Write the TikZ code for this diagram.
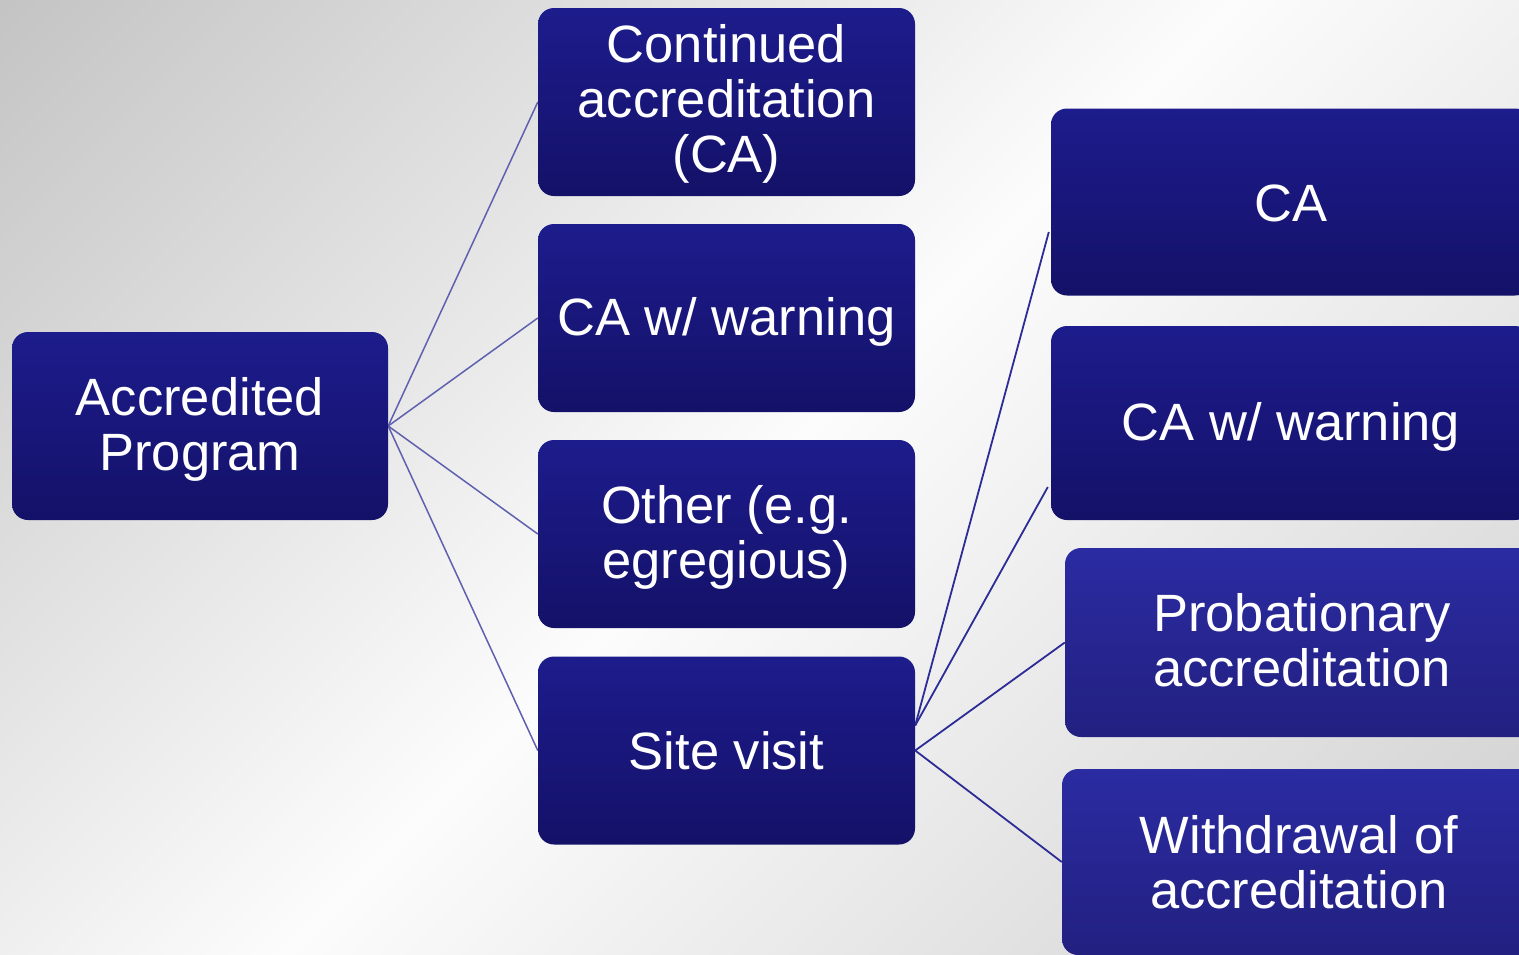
\documentclass[tikz,border=0pt]{standalone}
\usepackage{fontspec}
\setmainfont{Liberation Sans}
\usetikzlibrary{calc}

% page background: grey corners, light band along the anti-diagonal
\definecolor{bgTL}{RGB}{196,196,196}
\definecolor{bgMid}{RGB}{252,252,252}
\definecolor{bgBR}{RGB}{207,207,207}
\pgfdeclareverticalshading{bgdiag}{100bp}{%
  color(0bp)=(bgBR); color(14.64bp)=(bgBR); color(50bp)=(bgMid);
  color(85.36bp)=(bgTL); color(100bp)=(bgTL)}

\definecolor{navyTop}{RGB}{29,28,140}
\definecolor{navyBot}{RGB}{20,17,104}
\definecolor{royalTop}{RGB}{43,43,162}
\definecolor{royalBot}{RGB}{34,32,128}
\definecolor{fanLeft}{RGB}{96,96,176}
\definecolor{fanRight}{RGB}{44,44,150}

\pgfdeclarelayer{bglayer}
\pgfdeclarelayer{linklayer}
\pgfsetlayers{bglayer,linklayer,main}

% strut giving a one-line label a fixed height/depth so it sits centred
\newcommand\bxstrut{\rule[-7pt]{0pt}{52pt}}

\tikzset{
  boxtext/.style={inner sep=0pt, align=center, text=white,
    font=\fontsize{52.5}{55}\selectfont},
  box/.style={boxtext, rounded corners=16pt,
    execute at begin node=\bxstrut, execute at end node=\bxstrut,
    top color=navyTop, bottom color=navyBot},
  leftbox/.style={box, minimum width=377pt, minimum height=188pt},
  rightbox/.style={box, minimum width=480pt, minimum height=187pt},
  royal/.style={top color=royalTop, bottom color=royalBot},
  linkL/.style={draw=fanLeft, line width=1.5pt},
  linkR/.style={draw=fanRight, line width=1.8pt},
}

\begin{document}
\begin{tikzpicture}[x=1pt, y=-1pt]
\useasboundingbox (0,0) rectangle (1519,954);

\begin{pgfonlayer}{bglayer}
  \shade[shading=bgdiag, shading angle=45] (0,0) rectangle (1519,954);
\end{pgfonlayer}

% root
\node[leftbox, minimum width=376pt] (acc) at (200,426) {};
\node[boxtext] (accT) at ([yshift=-3pt]acc.center) {Accredited\\Program};

% first level
\node[leftbox] (cont)  at (726.5,102) {};
\node[boxtext] (contT) at ([yshift=-2pt]cont.center) {Continued\\accreditation\\(CA)};
\node[leftbox] (warn)  at (726.5,318) {CA w/ warning};
\node[leftbox] (other) at (726.5,534) {};
\node[boxtext] (otherT) at ([yshift=-3pt]other.center) {Other (e.g.\\egregious)};
\node[leftbox] (site)  at (726.5,750.5) {Site visit};

% outcomes of the site visit
\node[rightbox] (ca2)   at (1291,202) {CA};
\node[rightbox, minimum height=194pt] (warn2) at (1291,423) {CA w/ warning};
\node[rightbox, royal, minimum width=474pt, minimum height=189pt] (prob) at (1302,642.5) {};
\node[boxtext] (probT) at ([yshift=2pt]prob.center) {Probationary\\accreditation};
\node[rightbox, royal, minimum width=474pt, minimum height=186pt] (wd) at (1299,862) {};
\node[boxtext] (wdT) at (wd.center) {Withdrawal of\\accreditation};

\coordinate (siteUp) at ([yshift=25pt]site.east);
\coordinate (caIn)   at ([xshift=-2pt, yshift=-30pt]ca2.west);
\coordinate (warnIn) at ([xshift=-3pt, yshift=-64pt]warn2.west);

\begin{pgfonlayer}{linklayer}
  \foreach \t in {cont, warn, other, site}
    \draw[linkL] (acc.east) -- (\t.west);
  \draw[linkR] (siteUp) -- (caIn);
  \draw[linkR] (siteUp) -- (warnIn);
  \draw[linkR] (site.east) -- (prob.west);
  \draw[linkR] (site.east) -- (wd.west);
\end{pgfonlayer}
\end{tikzpicture}
\end{document}
